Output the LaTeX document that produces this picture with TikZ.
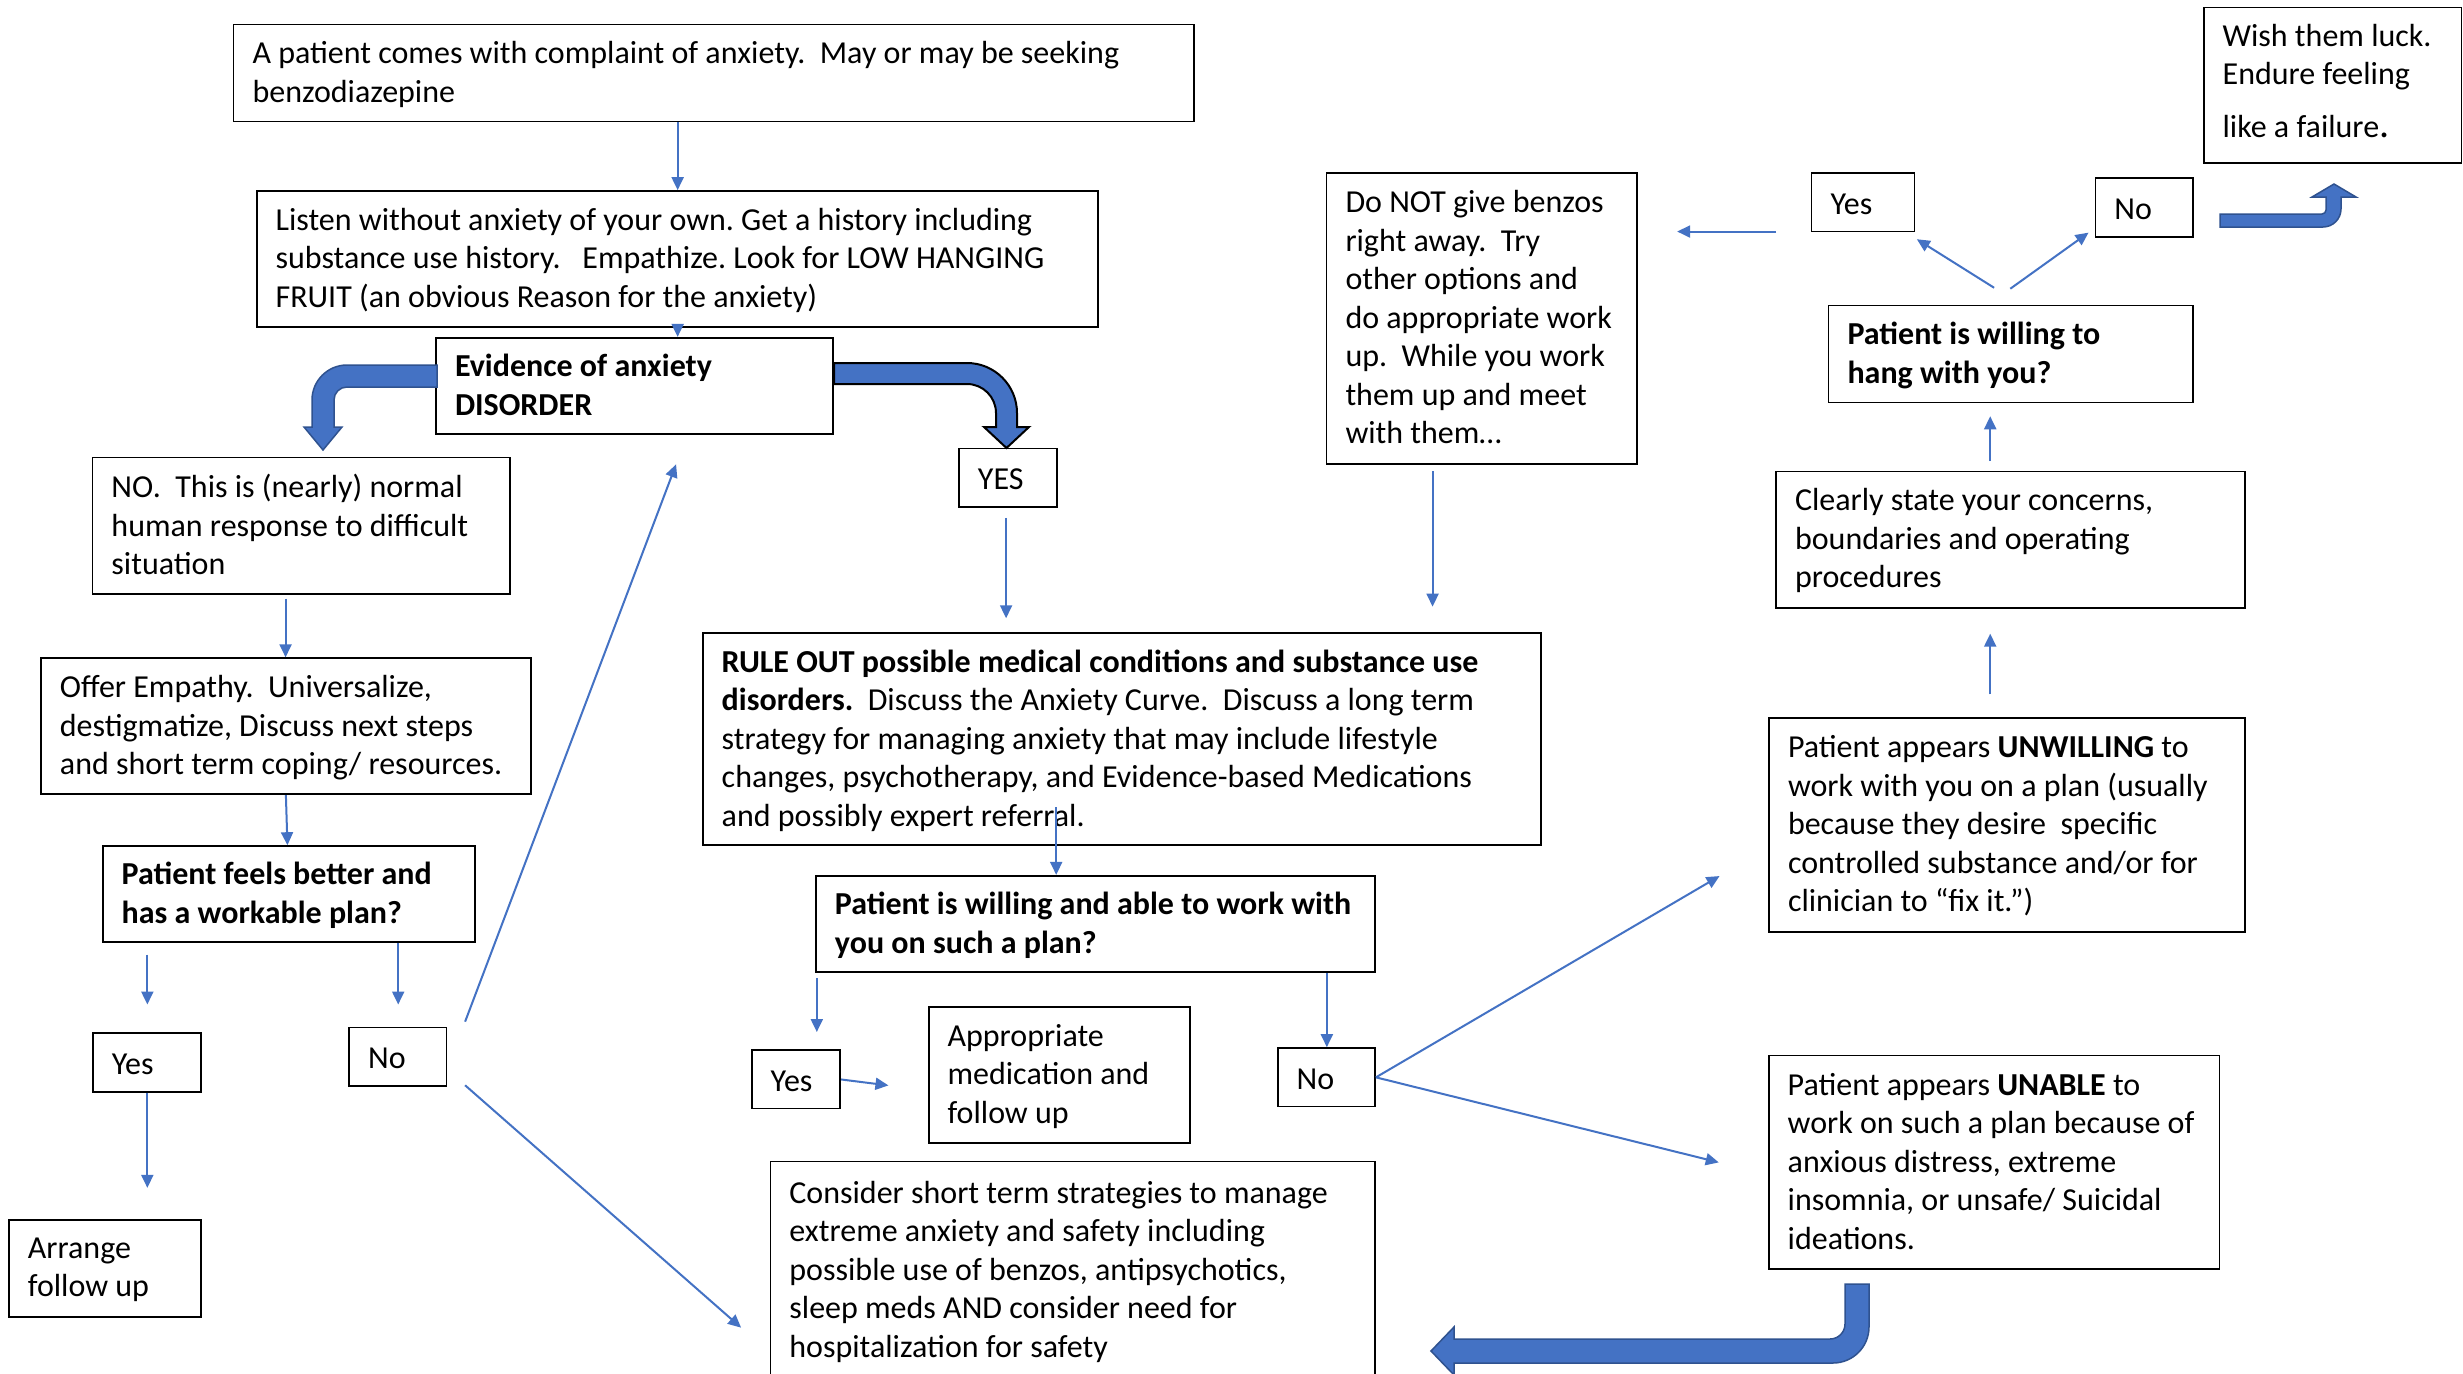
\documentclass[tikz,border=0pt]{standalone}
\usepackage{fontspec}
\setmainfont{Carlito}
\usetikzlibrary{arrows.meta}
\definecolor{ablue}{HTML}{4472C4}
\definecolor{dblue}{HTML}{2F528F}
\frenchspacing
\newcommand{\mybox}[7][]{%
  \pgfmathsetmacro\bw{(#5-#3)*1.5708}%
  \pgfmathsetmacro\bh{(#6-#4)*1.5708}%
  \node[boxst, minimum width=\bw pt, minimum height=\bh pt] (#2) at ({(#3+#5)/2},{(#4+#6)/2}) {};%
  \node[txtst, #1] (#2-t) at ([xshift=19.6pt, yshift=-4.5pt]#2.west) {#7};%
}
\begin{document}
\begin{tikzpicture}[x=1.5708pt, y=-1.5708pt,
  boxst/.style={draw=black, line width=1.7pt, inner sep=0pt, anchor=center},
  txtst/.style={anchor=west, inner sep=0pt, align=left,
    font=\fontsize{32}{38.5}\selectfont,
    execute at begin node=\strut, execute at end node=\strut},
  arr/.style={draw=ablue, line width=2pt, -{Triangle[length=13pt,width=12pt]}},
  blockarrow/.style={fill=ablue, draw=dblue, line width=1.5pt, line join=miter}]
\clip (0,0) rectangle (1568,874.7);
\fill[white] (0,0) rectangle (1568,874.7);

% ---------- boxes ----------
\mybox{top}{148.7}{15.6}{760.3}{77.3}{A patient comes with complaint of anxiety.\ \ May or may be seeking\\benzodiazepine}
\mybox{listen}{163.4}{121.6}{698.8}{208}{Listen without anxiety of your own. Get a history including\\substance use history.\ \ \ Empathize. Look for LOW HANGING\\FRUIT (an obvious Reason for the anxiety)}
\mybox[font=\fontsize{32}{38.5}\selectfont\bfseries]{evid}{277.6}{215}{530.4}{276.5}{Evidence of anxiety\\DISORDER}
\mybox{noA}{58.9}{291.3}{324.8}{378}{NO.\ \ This is (nearly) normal\\human response to difficult\\situation}
\mybox{offer}{26.1}{419}{338.2}{505.6}{Offer Empathy.\ \ Universalize,\\destigmatize, Discuss next steps\\and short term coping/ resources.}
\mybox[font=\fontsize{32}{38.5}\selectfont\bfseries]{feels}{65.4}{538.6}{302.4}{599.7}{Patient feels better and\\has a workable plan?}
\mybox{yesL}{59.1}{657.6}{127.9}{695}{Yes}
\mybox{noL}{222.3}{654.2}{284.2}{691.2}{No}
\mybox{arrange}{5.7}{776.7}{127.9}{838.5}{Arrange\\follow up}
\mybox{yesB}{610.5}{285.6}{673}{322.6}{YES}
\mybox{rule}{447.4}{403}{981}{538.1}{\textbf{RULE OUT possible medical conditions and substance use}\\\textbf{disorders.}\ \ Discuss the Anxiety Curve.\ \ Discuss a long term\\strategy for managing anxiety that may include lifestyle\\changes, psychotherapy, and Evidence-based Medications\\and possibly expert referral.}
\mybox[font=\fontsize{32}{38.5}\selectfont\bfseries]{willing}{519.5}{557.5}{875.4}{619}{Patient is willing and able to work with\\you on such a plan?}
\mybox{yesM}{478.6}{668.5}{534.9}{705.6}{Yes}
\mybox{approp}{591.2}{641}{757.6}{727.7}{Appropriate\\medication and\\follow up}
\mybox{noM}{813.4}{667.2}{875.4}{704.5}{No}
\mybox{consider}{490.5}{739.5}{875.4}{878}{Consider short term strategies to manage\\extreme anxiety and safety including\\possible use of benzos, antipsychotics,\\sleep meds AND consider need for\\hospitalization for safety}
\mybox{donot}{844.5}{110.1}{1042}{295.3}{Do NOT give benzos\\right away.\ \ Try\\other options and\\do appropriate work\\up.\ \ While you work\\them up and meet\\with them…}
\mybox{yesT}{1153.3}{110.1}{1218.8}{147.4}{Yes}
\mybox{noT}{1334}{113.3}{1396}{150.7}{No}
\mybox[yshift=3pt]{wish}{1402.9}{4.7}{1567}{103.6}{Wish them luck.\\Endure feeling\\[14pt]like a failure{\fontsize{40}{40}\selectfont.}}
\mybox[font=\fontsize{32}{38.5}\selectfont\bfseries]{hang}{1164.1}{194.5}{1396}{256.3}{Patient is willing to\\hang with you?}
\mybox{clearly}{1130.7}{300.1}{1429}{386.9}{Clearly state your concerns,\\boundaries and operating\\procedures}
\mybox{unwill}{1126.2}{457}{1429}{593.1}{Patient appears \textbf{UNWILLING} to\\work with you on a plan (usually\\because they desire\ \ specific\\controlled substance and/or for\\clinician to “fix it.”)}
\mybox{unable}{1126}{672}{1413}{807.9}{Patient appears \textbf{UNABLE} to\\work on such a plan because of\\anxious distress, extreme\\insomnia, or unsafe/ Suicidal\\ideations.}

% ---------- free connector ends ----------
\coordinate (f1a) at (93.8,607.8);  \coordinate (f1b) at (93.8,639.5);
\coordinate (f2b) at (253.5,639.5);
\coordinate (f3b) at (93.8,756.2);
\coordinate (f4a) at (296.1,650.4); \coordinate (f4b) at (430.4,295.6);
\coordinate (f5a) at (296.1,690.9); \coordinate (f5b) at (471.8,845.2);
\coordinate (f6a) at (640.5,329.7); \coordinate (f6b) at (640.5,393.6);
\coordinate (f7a) at (672.4,513.8);
\coordinate (f8a) at (520,622.5);   \coordinate (f8b) at (520,657);
\coordinate (f9b) at (565.6,691);
\coordinate (f10b) at (1094.7,557.7);
\coordinate (f11b) at (1094.2,740);
\coordinate (f12a) at (912,300);    \coordinate (f12b) at (912,386.2);
\coordinate (f13a) at (1130.7,147.4); \coordinate (f13b) at (1067.7,147.4);
\coordinate (f14a) at (1269.5,183.2); \coordinate (f14b) at (1220.3,152.3);
\coordinate (f15a) at (1279.8,183.8); \coordinate (f15b) at (1329.6,148.1);
\coordinate (f16a) at (1267,293.6); \coordinate (f16b) at (1267,265);
\coordinate (f17a) at (1267,442);   \coordinate (f17b) at (1267,403.4);

% ---------- thin connectors ----------
\draw[arr] (top.south -| 431.4,0) -- (listen.north -| 431.4,0);
\draw[arr] (listen.south -| 431.4,0) -- (evid.north -| 431.4,0);
\draw[arr] ([yshift=-4pt]noA.south -| 181.8,0) -- (offer.north -| 181.8,0);
\draw[arr] (offer.south -| 182,0) -- (feels.north -| 183,0);
\draw[arr] (f1a) -- (f1b);
\draw[arr] (feels.south -| 253.5,0) -- (f2b);
\draw[arr] (yesL.south -| 93.8,0) -- (f3b);
\draw[arr] (f4a) -- (f4b);
\draw[arr] (f5a) -- (f5b);
\draw[arr] (f6a) -- (f6b);
\draw[arr] (f7a) -- (willing.north -| 672.4,0);
\draw[arr] (f8a) -- (f8b);
\draw[arr] (willing.south -| 844.7,0) -- (noM.north -| 844.7,0);
\draw[arr] (yesM.east |- 0,687.2) -- (f9b);
\draw[arr] (noM.east) -- (f10b);
\draw[arr] (noM.east) -- (f11b);
\draw[arr] (f12a) -- (f12b);
\draw[arr] (f13a) -- (f13b);
\draw[arr] (f14a) -- (f14b);
\draw[arr] (f15a) -- (f15b);
\draw[arr] (f16a) -- (f16b);
\draw[arr] (f17a) -- (f17b);

% ---------- block arrows (full-size pixel units) ----------
\begin{scope}[x=1pt, y=-1pt]
% left, from Evidence box
\path[blockarrow] (437,365) -- (347,365)
  .. controls (327.7,365) and (312,380.7) .. (312,400)
  -- (312,427) -- (304,427) -- (323,450) -- (342,427) -- (334,427)
  -- (334,400) .. controls (334,392.8) and (339.8,387) .. (347,387)
  -- (437,387) -- cycle;
% right, from Evidence box to YES
\path[blockarrow, draw=black, line width=2pt] (834,363) -- (967,363)
  .. controls (994.6,363) and (1017,385.4) .. (1017,413)
  -- (1017,427) -- (1029,427) -- (1006.5,448) -- (984,427) -- (996,427)
  -- (996,413) .. controls (996,397) and (983,384) .. (967,384)
  -- (834,384) -- cycle;
% bottom, from UNABLE box
\path[blockarrow] (1845,1284) -- (1869,1284) -- (1869,1327)
  .. controls (1869,1346.9) and (1852.9,1363) .. (1833,1363)
  -- (1454,1363) -- (1454,1375) -- (1431,1351) -- (1454,1327) -- (1454,1339)
  -- (1830,1339) .. controls (1838.3,1339) and (1845,1332.3) .. (1845,1324)
  -- cycle;
% top right, from No
\path[blockarrow] (2220,214) -- (2322,214)
  .. controls (2324.2,214) and (2326,212.2) .. (2326,210)
  -- (2326,197) -- (2312,197) -- (2334,184) -- (2356,197) -- (2341,197)
  -- (2341,209) .. controls (2341,218.9) and (2332.9,227) .. (2323,227)
  -- (2220,227) -- cycle;
\end{scope}
\end{tikzpicture}
\end{document}
